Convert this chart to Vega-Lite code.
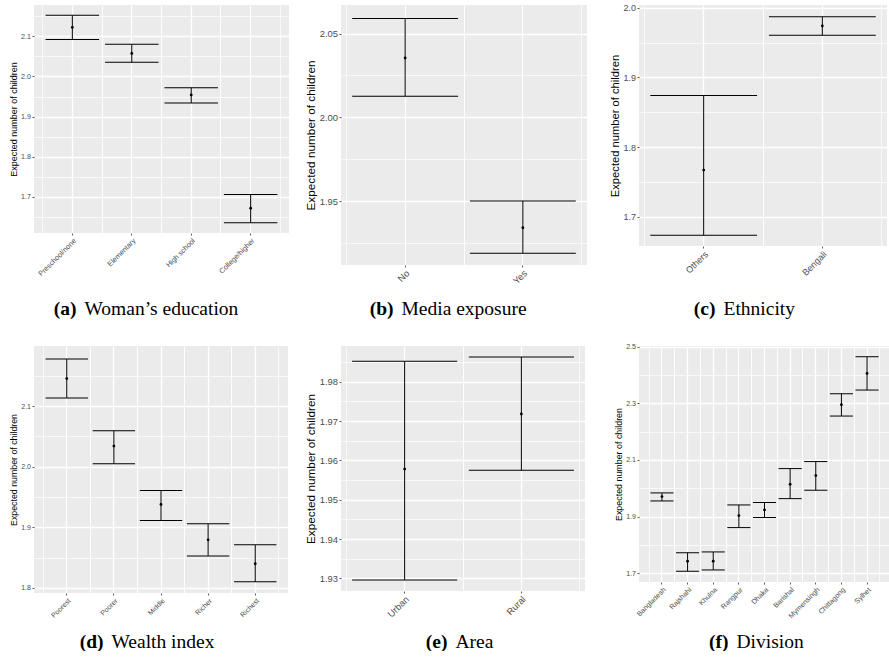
{
  "$schema": "https://vega.github.io/schema/vega-lite/v6.json",
  "padding": {"left": 9, "top": 3, "right": 0, "bottom": 0},
  "background": "white",
  "config": {
    "view": {"stroke": null, "fill": "#EBEBEB"},
    "axis": {"minExtent": 0, "domain": false, "labelFont": "Liberation Sans", "titleFont": "Liberation Sans", "labelColor": "#4D4D4D", "tickColor": "#333333", "tickWidth": 0.8, "titleFontWeight": "normal", "titleColor": "black", "gridColor": "#FFFFFF", "gridOpacity": 1, "labelOverlap": false, "labelFlush": false, "labelPadding": 1.5, "titlePadding": 2.5, "zindex": 0}
  },
  "concat": [
    {
      "width": 255, "height": 228,
      "data": {"values": [
        {"cat": "Preschool/none", "est": 2.122, "lo": 2.092, "hi": 2.152},
        {"cat": "Elementary", "est": 2.057, "lo": 2.035, "hi": 2.080},
        {"cat": "High school", "est": 1.954, "lo": 1.934, "hi": 1.972},
        {"cat": "College/higher", "est": 1.672, "lo": 1.636, "hi": 1.706}
      ]},
      "resolve": {"axis": {"x": "independent"}},
      "layer": [
        {"mark": {"type": "rule", "color": "black", "strokeWidth": 1},
         "encoding": {
           "x": {"field": "cat", "type": "nominal", "sort": null, "scale": {"type": "band", "paddingInner": 0, "paddingOuter": 0.145},
                 "axis": {"orient": "bottom", "zindex": 0, "labelAngle": -45, "labelAlign": "right", "labelBaseline": "top", "labelFontSize": 7.2, "tickSize": 2, "grid": true, "gridWidth": 1.3, "title": "(a)", "titleFont": "Liberation Serif", "titleFontSize": 19.5, "titleFontWeight": "bold", "titleAlign": "right", "titleBaseline": "alphabetic", "titleX": 42, "titleY": 81}},
           "y": {"field": "lo", "type": "quantitative", "scale": {"domain": [1.6102, 2.1778], "nice": false, "zero": false},
                 "axis": {"zindex": 0, "title": "Expected number of children", "titleFontSize": 9, "labelFontSize": 7.2, "tickSize": 2, "grid": true, "tickCount": 100,
                          "values": [1.65, 1.7, 1.75, 1.8, 1.85, 1.9, 1.95, 2.0, 2.05, 2.1, 2.15], "format": ".1f",
                          "labelExpr": "round(datum.value*100) % 10 != 0 ? '' : datum.label",
                          "gridWidth": {"condition": {"test": "round(datum.value*100) % 10 != 0", "value": 0.7}, "value": 1.3},
                          "tickOpacity": {"condition": {"test": "round(datum.value*100) % 10 != 0", "value": 0}, "value": 1}}},
           "y2": {"field": "hi"}
         }},
        {"mark": {"type": "tick", "orient": "horizontal", "size": 53.5, "thickness": 1, "color": "black", "opacity": 1},
         "encoding": {
           "x": {"field": "cat", "type": "nominal", "sort": null, "scale": {"type": "band", "paddingInner": 0, "paddingOuter": 0.145},
                 "axis": {"orient": "bottom", "zindex": 0, "bandPosition": 0, "grid": true, "gridWidth": 0.7, "labels": false, "ticks": false, "title": "Woman’s education", "titleFont": "Liberation Serif", "titleFontSize": 19.5, "titleAlign": "left", "titleBaseline": "alphabetic", "titleX": 50, "titleY": 81}},
           "y": {"field": "hi", "type": "quantitative"}
         }},
        {"mark": {"type": "tick", "orient": "horizontal", "size": 53.5, "thickness": 1, "color": "black", "opacity": 1},
         "encoding": {
           "x": {"field": "cat", "type": "nominal", "sort": null, "scale": {"type": "band", "paddingInner": 0, "paddingOuter": 0.145},
                 "axis": {"orient": "bottom", "zindex": 0, "bandPosition": 1, "grid": true, "gridWidth": 0.7, "labels": false, "ticks": false, "title": null}},
           "y": {"field": "lo", "type": "quantitative"}
         }},
        {"mark": {"type": "point", "filled": true, "color": "black", "size": 8, "opacity": 1},
         "encoding": {
           "x": {"field": "cat", "type": "nominal", "sort": null, "scale": {"type": "band", "paddingInner": 0, "paddingOuter": 0.145}, "axis": null},
           "y": {"field": "est", "type": "quantitative"}
         }}
      ]
    },
    {
      "width": 246, "height": 260,
      "data": {"values": [
        {"cat": "No", "est": 2.0354, "lo": 2.0126, "hi": 2.059},
        {"cat": "Yes", "est": 1.9342, "lo": 1.919, "hi": 1.9502}
      ]},
      "resolve": {"axis": {"x": "independent"}},
      "layer": [
        {"mark": {"type": "rule", "color": "black", "strokeWidth": 1},
         "encoding": {
           "x": {"field": "cat", "type": "nominal", "sort": null, "scale": {"type": "band", "paddingInner": 0, "paddingOuter": 0.045},
                 "axis": {"orient": "bottom", "zindex": 0, "labelAngle": -45, "labelAlign": "right", "labelBaseline": "top", "labelFontSize": 9.4, "tickSize": 2, "grid": true, "gridWidth": 1.3, "title": "(b)", "titleFont": "Liberation Serif", "titleFontSize": 19.5, "titleFontWeight": "bold", "titleAlign": "right", "titleBaseline": "alphabetic", "titleX": 52, "titleY": 49.5}},
           "y": {"field": "lo", "type": "quantitative", "scale": {"domain": [1.912, 2.067], "nice": false, "zero": false},
                 "axis": {"zindex": 0, "title": "Expected number of children", "titleFontSize": 11.8, "labelFontSize": 9.4, "tickSize": 2, "grid": true, "tickCount": 100,
                          "values": [1.925, 1.95, 1.975, 2.0, 2.025, 2.05], "format": ".2f",
                          "labelExpr": "round(datum.value*1000) % 50 != 0 ? '' : datum.label",
                          "gridWidth": {"condition": {"test": "round(datum.value*1000) % 50 != 0", "value": 0.7}, "value": 1.3},
                          "tickOpacity": {"condition": {"test": "round(datum.value*1000) % 50 != 0", "value": 0}, "value": 1}}},
           "y2": {"field": "hi"}
         }},
        {"mark": {"type": "tick", "orient": "horizontal", "size": 105.9, "thickness": 1, "color": "black", "opacity": 1},
         "encoding": {
           "x": {"field": "cat", "type": "nominal", "sort": null, "scale": {"type": "band", "paddingInner": 0, "paddingOuter": 0.045},
                 "axis": {"orient": "bottom", "zindex": 0, "bandPosition": 0, "grid": true, "gridWidth": 0.7, "labels": false, "ticks": false, "title": "Media exposure", "titleFont": "Liberation Serif", "titleFontSize": 19.5, "titleAlign": "left", "titleBaseline": "alphabetic", "titleX": 60, "titleY": 49.5}},
           "y": {"field": "hi", "type": "quantitative"}
         }},
        {"mark": {"type": "tick", "orient": "horizontal", "size": 105.9, "thickness": 1, "color": "black", "opacity": 1},
         "encoding": {
           "x": {"field": "cat", "type": "nominal", "sort": null, "scale": {"type": "band", "paddingInner": 0, "paddingOuter": 0.045},
                 "axis": {"orient": "bottom", "zindex": 0, "bandPosition": 1, "grid": true, "gridWidth": 0.7, "labels": false, "ticks": false, "title": null}},
           "y": {"field": "lo", "type": "quantitative"}
         }},
        {"mark": {"type": "point", "filled": true, "color": "black", "size": 8, "opacity": 1},
         "encoding": {
           "x": {"field": "cat", "type": "nominal", "sort": null, "scale": {"type": "band", "paddingInner": 0, "paddingOuter": 0.045}, "axis": null},
           "y": {"field": "est", "type": "quantitative"}
         }}
      ]
    },
    {
      "width": 248, "height": 241,
      "data": {"values": [
        {"cat": "Others", "est": 1.767, "lo": 1.6733, "hi": 1.8739},
        {"cat": "Bengali", "est": 1.974, "lo": 1.9604, "hi": 1.987}
      ]},
      "resolve": {"axis": {"x": "independent"}},
      "layer": [
        {"mark": {"type": "rule", "color": "black", "strokeWidth": 1},
         "encoding": {
           "x": {"field": "cat", "type": "nominal", "sort": null, "scale": {"type": "band", "paddingInner": 0, "paddingOuter": 0.045},
                 "axis": {"orient": "bottom", "zindex": 0, "labelAngle": -45, "labelAlign": "right", "labelBaseline": "top", "labelFontSize": 9, "tickSize": 2, "grid": true, "gridWidth": 1.3, "title": "(c)", "titleFont": "Liberation Serif", "titleFontSize": 19.5, "titleFontWeight": "bold", "titleAlign": "right", "titleBaseline": "alphabetic", "titleX": 76, "titleY": 68.5}},
           "y": {"field": "lo", "type": "quantitative", "scale": {"domain": [1.658, 2.004], "nice": false, "zero": false},
                 "axis": {"zindex": 0, "title": "Expected number of children", "titleFontSize": 11.2, "labelFontSize": 9, "tickSize": 2, "grid": true, "tickCount": 100,
                          "values": [1.7, 1.75, 1.8, 1.85, 1.9, 1.95, 2.0], "format": ".1f",
                          "labelExpr": "round(datum.value*100) % 10 != 0 ? '' : datum.label",
                          "gridWidth": {"condition": {"test": "round(datum.value*100) % 10 != 0", "value": 0.7}, "value": 1.3},
                          "tickOpacity": {"condition": {"test": "round(datum.value*100) % 10 != 0", "value": 0}, "value": 1}}},
           "y2": {"field": "hi"}
         }},
        {"mark": {"type": "tick", "orient": "horizontal", "size": 106.8, "thickness": 1, "color": "black", "opacity": 1},
         "encoding": {
           "x": {"field": "cat", "type": "nominal", "sort": null, "scale": {"type": "band", "paddingInner": 0, "paddingOuter": 0.045},
                 "axis": {"orient": "bottom", "zindex": 0, "bandPosition": 0, "grid": true, "gridWidth": 0.7, "labels": false, "ticks": false, "title": "Ethnicity", "titleFont": "Liberation Serif", "titleFontSize": 19.5, "titleAlign": "left", "titleBaseline": "alphabetic", "titleX": 84, "titleY": 68.5}},
           "y": {"field": "hi", "type": "quantitative"}
         }},
        {"mark": {"type": "tick", "orient": "horizontal", "size": 106.8, "thickness": 1, "color": "black", "opacity": 1},
         "encoding": {
           "x": {"field": "cat", "type": "nominal", "sort": null, "scale": {"type": "band", "paddingInner": 0, "paddingOuter": 0.045},
                 "axis": {"orient": "bottom", "zindex": 0, "bandPosition": 1, "grid": true, "gridWidth": 0.7, "labels": false, "ticks": false, "title": null}},
           "y": {"field": "lo", "type": "quantitative"}
         }},
        {"mark": {"type": "point", "filled": true, "color": "black", "size": 8, "opacity": 1},
         "encoding": {
           "x": {"field": "cat", "type": "nominal", "sort": null, "scale": {"type": "band", "paddingInner": 0, "paddingOuter": 0.045}, "axis": null},
           "y": {"field": "est", "type": "quantitative"}
         }}
      ]
    },
    {
      "width": 254, "height": 247,
      "data": {"values": [
        {"cat": "Poorest", "est": 2.1453, "lo": 2.1132, "hi": 2.1777},
        {"cat": "Poorer", "est": 2.0339, "lo": 2.0048, "hi": 2.0593},
        {"cat": "Middle", "est": 1.9375, "lo": 1.9111, "hi": 1.9608},
        {"cat": "Richer", "est": 1.8792, "lo": 1.8527, "hi": 1.9056},
        {"cat": "Richest", "est": 1.8397, "lo": 1.8099, "hi": 1.8709}
      ]},
      "resolve": {"axis": {"x": "independent"}},
      "layer": [
        {"mark": {"type": "rule", "color": "black", "strokeWidth": 1},
         "encoding": {
           "x": {"field": "cat", "type": "nominal", "sort": null, "scale": {"type": "band", "paddingInner": 0, "paddingOuter": 0.195},
                 "axis": {"orient": "bottom", "zindex": 0, "labelAngle": -45, "labelAlign": "right", "labelBaseline": "top", "labelFontSize": 7, "tickSize": 2, "grid": true, "gridWidth": 1.3, "title": "(d)", "titleFont": "Liberation Serif", "titleFontSize": 19.5, "titleFontWeight": "bold", "titleAlign": "right", "titleBaseline": "alphabetic", "titleX": 69, "titleY": 54.5}},
           "y": {"field": "lo", "type": "quantitative", "scale": {"domain": [1.7915, 2.199], "nice": false, "zero": false},
                 "axis": {"zindex": 0, "title": "Expected number of children", "titleFontSize": 8.8, "labelFontSize": 7, "tickSize": 2, "grid": true, "tickCount": 100,
                          "values": [1.8, 1.85, 1.9, 1.95, 2.0, 2.05, 2.1, 2.15], "format": ".1f",
                          "labelExpr": "round(datum.value*100) % 10 != 0 ? '' : datum.label",
                          "gridWidth": {"condition": {"test": "round(datum.value*100) % 10 != 0", "value": 0.7}, "value": 1.3},
                          "tickOpacity": {"condition": {"test": "round(datum.value*100) % 10 != 0", "value": 0}, "value": 1}}},
           "y2": {"field": "hi"}
         }},
        {"mark": {"type": "tick", "orient": "horizontal", "size": 42.4, "thickness": 1, "color": "black", "opacity": 1},
         "encoding": {
           "x": {"field": "cat", "type": "nominal", "sort": null, "scale": {"type": "band", "paddingInner": 0, "paddingOuter": 0.195},
                 "axis": {"orient": "bottom", "zindex": 0, "bandPosition": 0, "grid": true, "gridWidth": 0.7, "labels": false, "ticks": false, "title": "Wealth index", "titleFont": "Liberation Serif", "titleFontSize": 19.5, "titleAlign": "left", "titleBaseline": "alphabetic", "titleX": 77, "titleY": 54.5}},
           "y": {"field": "hi", "type": "quantitative"}
         }},
        {"mark": {"type": "tick", "orient": "horizontal", "size": 42.4, "thickness": 1, "color": "black", "opacity": 1},
         "encoding": {
           "x": {"field": "cat", "type": "nominal", "sort": null, "scale": {"type": "band", "paddingInner": 0, "paddingOuter": 0.195},
                 "axis": {"orient": "bottom", "zindex": 0, "bandPosition": 1, "grid": true, "gridWidth": 0.7, "labels": false, "ticks": false, "title": null}},
           "y": {"field": "lo", "type": "quantitative"}
         }},
        {"mark": {"type": "point", "filled": true, "color": "black", "size": 8, "opacity": 1},
         "encoding": {
           "x": {"field": "cat", "type": "nominal", "sort": null, "scale": {"type": "band", "paddingInner": 0, "paddingOuter": 0.195}, "axis": null},
           "y": {"field": "est", "type": "quantitative"}
         }}
      ]
    },
    {
      "width": 244, "height": 245,
      "data": {"values": [
        {"cat": "Urban", "est": 1.9578, "lo": 1.9296, "hi": 1.9852},
        {"cat": "Rural", "est": 1.9718, "lo": 1.9575, "hi": 1.9863}
      ]},
      "resolve": {"axis": {"x": "independent"}},
      "layer": [
        {"mark": {"type": "rule", "color": "black", "strokeWidth": 1},
         "encoding": {
           "x": {"field": "cat", "type": "nominal", "sort": null, "scale": {"type": "band", "paddingInner": 0, "paddingOuter": 0.045},
                 "axis": {"orient": "bottom", "zindex": 0, "labelAngle": -45, "labelAlign": "right", "labelBaseline": "top", "labelFontSize": 9.4, "tickSize": 2, "grid": true, "gridWidth": 1.3, "title": "(e)", "titleFont": "Liberation Serif", "titleFontSize": 19.5, "titleFontWeight": "bold", "titleAlign": "right", "titleBaseline": "alphabetic", "titleX": 106, "titleY": 56.5}},
           "y": {"field": "lo", "type": "quantitative", "scale": {"domain": [1.9268, 1.9891], "nice": false, "zero": false},
                 "axis": {"zindex": 0, "title": "Expected number of children", "titleFontSize": 11.8, "labelFontSize": 9.4, "tickSize": 2, "grid": true, "tickCount": 100,
                          "values": [1.93, 1.935, 1.94, 1.945, 1.95, 1.955, 1.96, 1.965, 1.97, 1.975, 1.98, 1.985], "format": ".2f",
                          "labelExpr": "round(datum.value*1000) % 10 != 0 ? '' : datum.label",
                          "gridWidth": {"condition": {"test": "round(datum.value*1000) % 10 != 0", "value": 0.7}, "value": 1.3},
                          "tickOpacity": {"condition": {"test": "round(datum.value*1000) % 10 != 0", "value": 0}, "value": 1}}},
           "y2": {"field": "hi"}
         }},
        {"mark": {"type": "tick", "orient": "horizontal", "size": 105.1, "thickness": 1, "color": "black", "opacity": 1},
         "encoding": {
           "x": {"field": "cat", "type": "nominal", "sort": null, "scale": {"type": "band", "paddingInner": 0, "paddingOuter": 0.045},
                 "axis": {"orient": "bottom", "zindex": 0, "bandPosition": 0, "grid": true, "gridWidth": 0.7, "labels": false, "ticks": false, "title": "Area", "titleFont": "Liberation Serif", "titleFontSize": 19.5, "titleAlign": "left", "titleBaseline": "alphabetic", "titleX": 114, "titleY": 56.5}},
           "y": {"field": "hi", "type": "quantitative"}
         }},
        {"mark": {"type": "tick", "orient": "horizontal", "size": 105.1, "thickness": 1, "color": "black", "opacity": 1},
         "encoding": {
           "x": {"field": "cat", "type": "nominal", "sort": null, "scale": {"type": "band", "paddingInner": 0, "paddingOuter": 0.045},
                 "axis": {"orient": "bottom", "zindex": 0, "bandPosition": 1, "grid": true, "gridWidth": 0.7, "labels": false, "ticks": false, "title": null}},
           "y": {"field": "lo", "type": "quantitative"}
         }},
        {"mark": {"type": "point", "filled": true, "color": "black", "size": 8, "opacity": 1},
         "encoding": {
           "x": {"field": "cat", "type": "nominal", "sort": null, "scale": {"type": "band", "paddingInner": 0, "paddingOuter": 0.045}, "axis": null},
           "y": {"field": "est", "type": "quantitative"}
         }}
      ]
    },
    {
      "width": 251, "height": 236,
      "data": {"values": [
        {"cat": "Bangladesh", "est": 1.9706, "lo": 1.9553, "hi": 1.9837},
        {"cat": "Rajshahi", "est": 1.7424, "lo": 1.707, "hi": 1.7727},
        {"cat": "Khulna", "est": 1.7424, "lo": 1.7116, "hi": 1.7752},
        {"cat": "Rangpur", "est": 1.9035, "lo": 1.8612, "hi": 1.9412},
        {"cat": "Dhaka", "est": 1.9237, "lo": 1.8965, "hi": 1.9494},
        {"cat": "Barishal", "est": 2.0144, "lo": 1.9635, "hi": 2.0696},
        {"cat": "Mymensingh", "est": 2.045, "lo": 1.9932, "hi": 2.0944},
        {"cat": "Chittagong", "est": 2.2951, "lo": 2.2552, "hi": 2.3339},
        {"cat": "Sylhet", "est": 2.4059, "lo": 2.347, "hi": 2.4647}
      ]},
      "resolve": {"axis": {"x": "independent"}},
      "layer": [
        {"mark": {"type": "rule", "color": "black", "strokeWidth": 1},
         "encoding": {
           "x": {"field": "cat", "type": "nominal", "sort": null, "scale": {"type": "band", "paddingInner": 0, "paddingOuter": 0.395},
                 "axis": {"orient": "bottom", "zindex": 0, "labelAngle": -45, "labelAlign": "right", "labelBaseline": "top", "labelFontSize": 7.1, "tickSize": 2, "grid": true, "gridWidth": 1.3, "title": "(f)", "titleFont": "Liberation Serif", "titleFontSize": 19.5, "titleFontWeight": "bold", "titleAlign": "right", "titleBaseline": "alphabetic", "titleX": 89, "titleY": 65.5}},
           "y": {"field": "lo", "type": "quantitative", "scale": {"domain": [1.669, 2.5026], "nice": false, "zero": false},
                 "axis": {"zindex": 0, "title": "Expected number of children", "titleFontSize": 8.9, "labelFontSize": 7.1, "tickSize": 2, "grid": true, "tickCount": 100,
                          "values": [1.7, 1.8, 1.9, 2.0, 2.1, 2.2, 2.3, 2.4, 2.5], "format": ".1f",
                          "labelExpr": "round(datum.value*10) % 2 == 0 ? '' : datum.label",
                          "gridWidth": {"condition": {"test": "round(datum.value*10) % 2 == 0", "value": 0.7}, "value": 1.3},
                          "tickOpacity": {"condition": {"test": "round(datum.value*10) % 2 == 0", "value": 0}, "value": 1}}},
           "y2": {"field": "hi"}
         }},
        {"mark": {"type": "tick", "orient": "horizontal", "size": 23.1, "thickness": 1, "color": "black", "opacity": 1},
         "encoding": {
           "x": {"field": "cat", "type": "nominal", "sort": null, "scale": {"type": "band", "paddingInner": 0, "paddingOuter": 0.395},
                 "axis": {"orient": "bottom", "zindex": 0, "bandPosition": 0, "grid": true, "gridWidth": 0.7, "labels": false, "ticks": false, "title": "Division", "titleFont": "Liberation Serif", "titleFontSize": 19.5, "titleAlign": "left", "titleBaseline": "alphabetic", "titleX": 97, "titleY": 65.5}},
           "y": {"field": "hi", "type": "quantitative"}
         }},
        {"mark": {"type": "tick", "orient": "horizontal", "size": 23.1, "thickness": 1, "color": "black", "opacity": 1},
         "encoding": {
           "x": {"field": "cat", "type": "nominal", "sort": null, "scale": {"type": "band", "paddingInner": 0, "paddingOuter": 0.395},
                 "axis": {"orient": "bottom", "zindex": 0, "bandPosition": 1, "grid": true, "gridWidth": 0.7, "labels": false, "ticks": false, "title": null}},
           "y": {"field": "lo", "type": "quantitative"}
         }},
        {"mark": {"type": "point", "filled": true, "color": "black", "size": 8, "opacity": 1},
         "encoding": {
           "x": {"field": "cat", "type": "nominal", "sort": null, "scale": {"type": "band", "paddingInner": 0, "paddingOuter": 0.395}, "axis": null},
           "y": {"field": "est", "type": "quantitative"}
         }}
      ]
    }
  ],
  "columns": 3,
  "spacing": {"row": 81, "column": 52},
  "bounds": "flush",
  "align": {"row": "each", "column": "none"}
}
